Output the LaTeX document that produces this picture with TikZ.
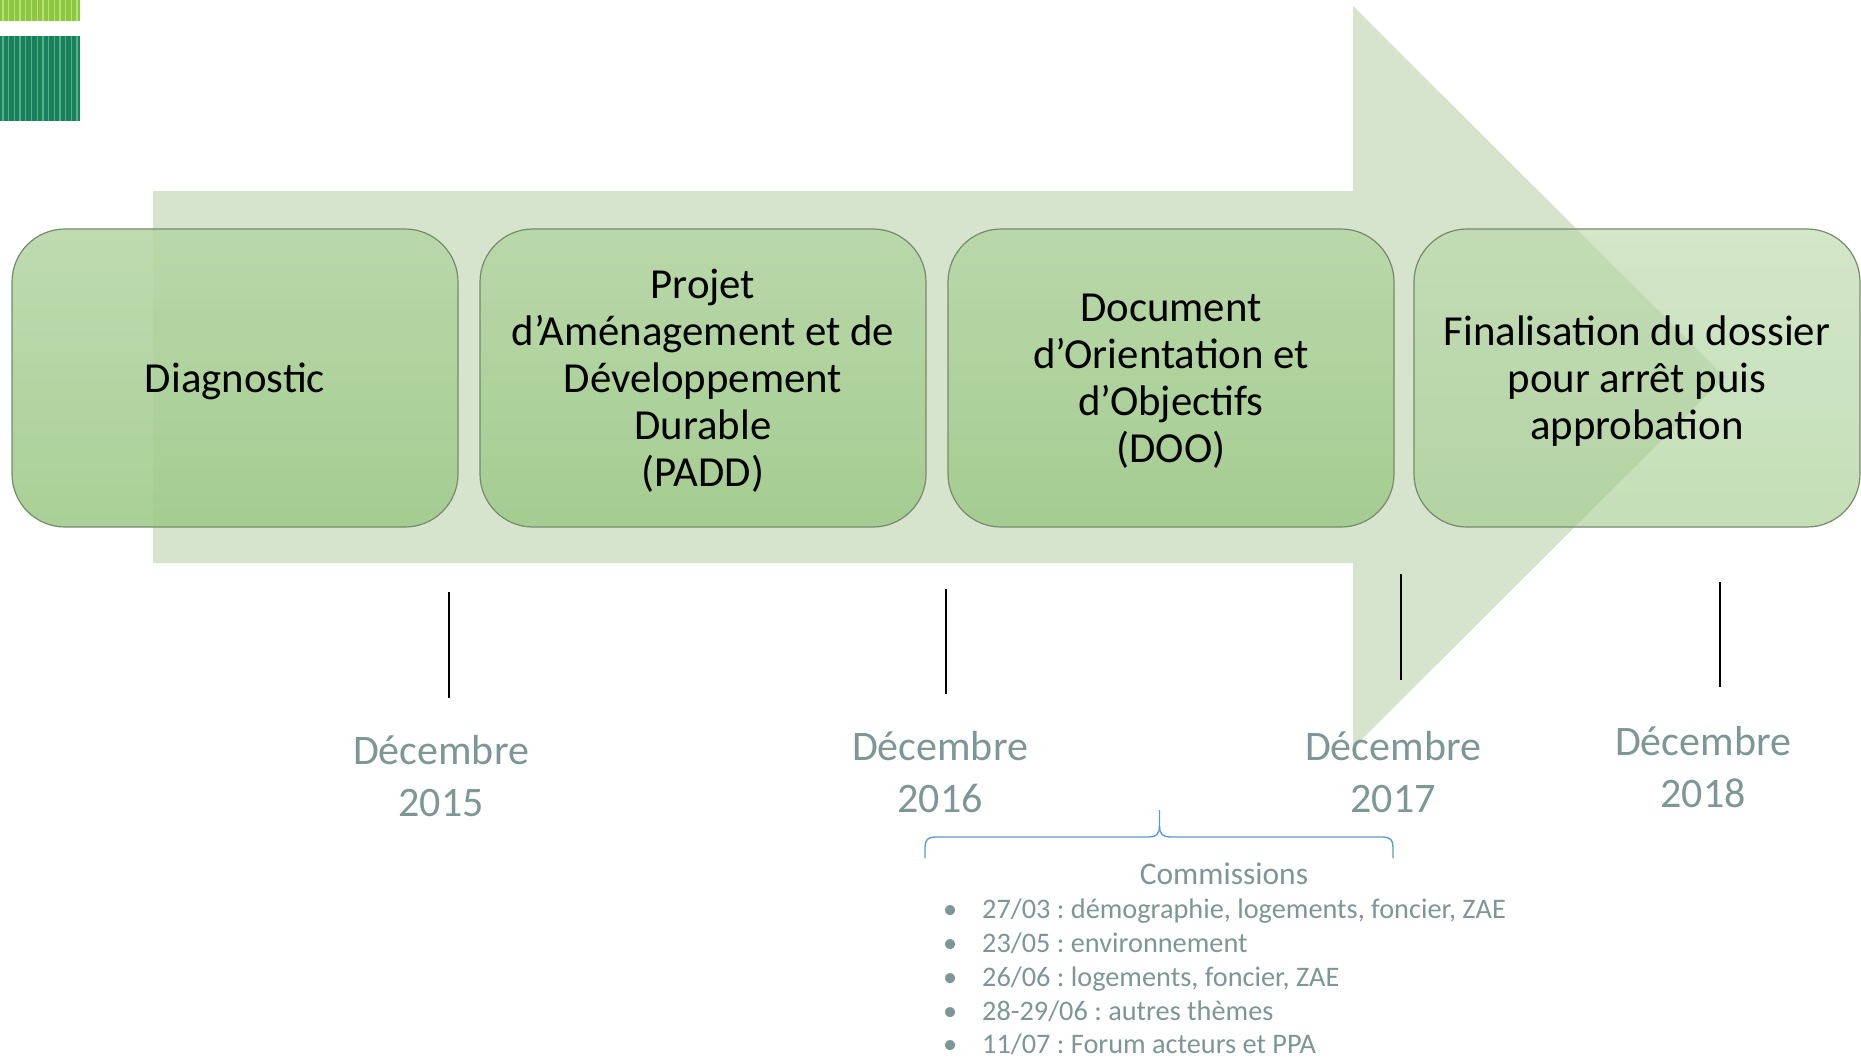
\documentclass[tikz,border=0pt]{standalone}
\usepackage{fontspec}
\setmainfont{Carlito}
\frenchspacing
\definecolor{arrowgreen}{RGB}{214,227,205}
\definecolor{boxtop}{RGB}{182,215,165}
\definecolor{boxbot}{RGB}{158,202,137}
\definecolor{boxline}{RGB}{118,138,108}
\definecolor{datecol}{RGB}{124,151,150}
\definecolor{bracecol}{RGB}{91,155,213}
\definecolor{barlime}{RGB}{141,198,63}
\definecolor{barlimelight}{RGB}{185,224,125}
\definecolor{barteal}{RGB}{24,128,92}
\definecolor{bartealight}{RGB}{85,178,132}
\begin{document}
\begin{tikzpicture}[x=1pt,y=-1pt,
  stage/.style={draw=boxline, line width=1.2pt, rounded corners=53pt,
    top color=boxtop, bottom color=boxbot, minimum width=446pt,
    minimum height=298pt, inner sep=0pt},
  stagetext/.style={align=center, text=black, inner sep=0pt, yshift=-3pt,
    font=\fontsize{42.8}{47}\selectfont},
  tick/.style={line width=2.5pt, black},
  datelbl/.style={anchor=base, text=datecol, inner sep=0pt,
    font=\fontsize{42}{51}\selectfont},
  comlbl/.style={anchor=base west, text=datecol, inner sep=0pt,
    font=\fontsize{28.3}{34}\selectfont},
  bracestyle/.style={draw=bracecol, line width=1.4pt}]
\useasboundingbox (0,0) rectangle (1861,1058);
\fill[white] (0,0) rectangle (1861,1058);

% top-left striped bars
\fill[barlime] (0,0) rectangle (80,21);
\foreach \i in {0,...,13} \draw[barlimelight, line width=1.3pt] ({3+\i*5.7},0) -- ({3+\i*5.7},21);
\fill[barteal] (0,36) rectangle (80,121);
\foreach \i in {0,...,13} \draw[bartealight, line width=1.3pt] ({3+\i*5.7},36) -- ({3+\i*5.7},121);

% big background arrow
\fill[arrowgreen] (153,191) -- (1353,191) -- (1353,6) -- (1725,377) -- (1353,748)
  -- (1353,563) -- (153,563) -- cycle;

% stages
\node[stage, fill opacity=0.88] (s1) at (235,378) {};
\node[stage, fill opacity=0.88] (s2) at (703,378) {};
\node[stage, fill opacity=0.88] (s3) at (1171,378) {};
\node[stage, fill opacity=0.6] (s4) at (1637,378) {};
\node[stagetext] (s1t) at (s1.center) {Diagnostic};
\node[stagetext] (s2t) at (s2.center)
  {Projet\\d’Aménagement et de\\Développement\\Durable\\(PADD)};
\node[stagetext] (s3t) at (s3.center)
  {Document\\d’Orientation et\\d’Objectifs\\(DOO)};
\node[stagetext] (s4t) at (s4.center)
  {Finalisation du dossier\\pour arrêt puis\\approbation};

% ticks
\coordinate (t1a) at (449,592); \coordinate (t1b) at (449,698);
\coordinate (t2a) at (946,589); \coordinate (t2b) at (946,694);
\coordinate (t3a) at (1401,574); \coordinate (t3b) at (1401,680);
\coordinate (t4a) at (1720,582); \coordinate (t4b) at (1720,687);
\draw[tick] (t1a) -- (t1b);
\draw[tick] (t2a) -- (t2b);
\draw[tick] (t3a) -- (t3b);
\draw[tick] (t4a) -- (t4b);

% dates
\node[datelbl] (d15a) at (441,764) {Décembre};
\node[datelbl] (d15b) at (441,816) {2015};
\node[datelbl] (d16a) at (940,760) {Décembre};
\node[datelbl] (d16b) at (940,812) {2016};
\node[datelbl] (d17a) at (1393,760) {Décembre};
\node[datelbl] (d17b) at (1393,812) {2017};
\node[datelbl] (d18a) at (1703,755) {Décembre};
\node[datelbl] (d18b) at (1703,807) {2018};

% brace
\draw[bracestyle] (925,858) -- (925,847) .. controls (925,840) and (928,837) .. (935,837)
  -- (1149,837) .. controls (1156,837) and (1159.5,834) .. (1159.5,826) -- (1159.5,810);
\draw[bracestyle] (1159.5,826) .. controls (1159.5,834) and (1163,837) .. (1170,837)
  -- (1383,837) .. controls (1390,837) and (1393,840) .. (1393,847) -- (1393,858);

% commissions
\node[anchor=base, text=datecol, inner sep=0pt, font=\fontsize{31.5}{36}\selectfont]
  (ctitle) at (1224,884) {Commissions};
\node[comlbl] (c1) at (943,918) {\makebox[39pt][l]{•}27/03 : démographie, logements, foncier, ZAE};
\node[comlbl] (c2) at (943,952) {\makebox[39pt][l]{•}23/05 : environnement};
\node[comlbl] (c3) at (943,986) {\makebox[39pt][l]{•}26/06 : logements, foncier, ZAE};
\node[comlbl] (c4) at (943,1020) {\makebox[39pt][l]{•}28-29/06 : autres thèmes};
\node[comlbl] (c5) at (943,1053) {\makebox[39pt][l]{•}11/07 : Forum acteurs et PPA};
\end{tikzpicture}
\end{document}
